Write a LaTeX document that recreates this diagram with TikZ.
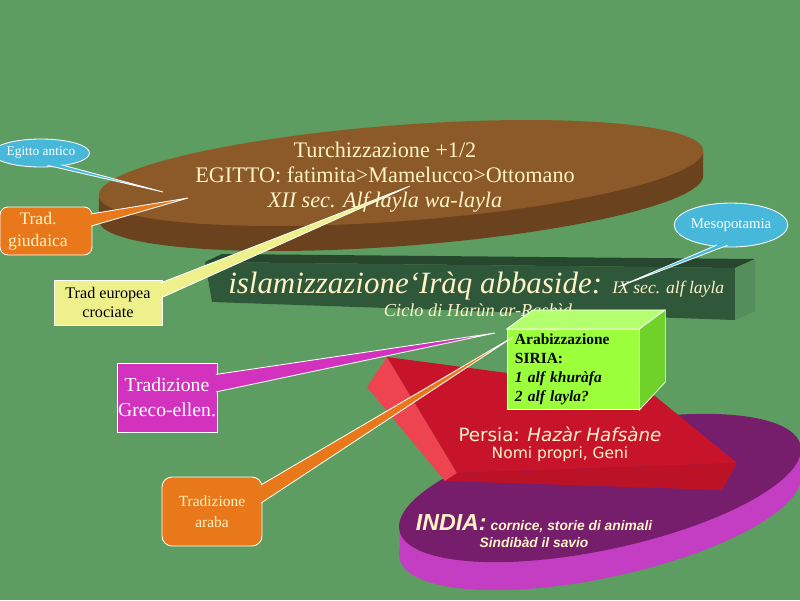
\documentclass[tikz,border=0pt]{standalone}
\usepackage{fontspec}
\setmainfont{Liberation Serif}
\newfontfamily\persiafont{DejaVu Sans}
\newfontfamily\indiafont{Liberation Sans}
\usepackage{tikz}
\usetikzlibrary{
    shapes,
    calc,
    positioning
}
\definecolor{bggreen}{HTML}{5D9D61}
\definecolor{creamtext}{HTML}{FFF3C6}
\definecolor{browntop}{HTML}{8C5A28}
\definecolor{brownside}{HTML}{6A431E}
\definecolor{slabtop}{HTML}{26462D}
\definecolor{slabfront}{HTML}{2F583A}
\definecolor{slabside}{HTML}{548E5C}
\definecolor{indiatop}{HTML}{761E6C}
\definecolor{indiaside}{HTML}{C43EC4}
\definecolor{persiatop}{HTML}{C8142A}
\definecolor{persialeft}{HTML}{EE4452}
\definecolor{persiafront}{HTML}{BC1228}
\definecolor{cubefront}{HTML}{9BFF3C}
\definecolor{cubetop}{HTML}{B4FF6E}
\definecolor{cubeside}{HTML}{6ED22A}
\definecolor{skyblue}{HTML}{48B8DA}
\definecolor{tradorange}{HTML}{E8781A}
\definecolor{paleyellow}{HTML}{EEF08C}
\definecolor{grecomagenta}{HTML}{D232BE}

\begin{document}
\begin{tikzpicture}[x=0.025cm, y=-0.025cm,
        txt/.style={text=creamtext, align=center, inner sep=0pt},
        callout/.style={draw=white, line width=0.6pt, align=center, inner sep=0pt},
        wedge/.style={white, line width=0.6pt}]
                                \useasboundingbox (0,0) rectangle (800,600);
                                \clip (0,0) rectangle (800,600);
                                \fill[bggreen] (0,0) rectangle (800,600);

                                % Egitto disc
                                \fill[brownside, rotate around={4.3:(401,198)}] (401,198) ellipse [x radius=303, y radius=48];
                                \fill[brownside] (98.9,195.7) -- (703.1,150.3) -- (703.1,175.3) -- (98.9,220.7) -- cycle;
                                \fill[browntop, rotate around={4.3:(401,173)}] (401,173) ellipse [x radius=303, y radius=48];
                                \node[txt, font=\fontsize{15.8}{17.8}\selectfont] (turk) at (385,177)
                                    {Turchizzazione +1/2\\EGITTO: fatimita>Mamelucco>Ottomano\\\textit{XII sec. Alf layla wa-layla}};

                                % Iraq slab
                                \fill[slabtop] (205,262) -- (222,254) -- (755,259) -- (735,268) -- cycle;
                                \fill[slabfront] (205,262) -- (735,268) -- (735,320) -- (212,302) -- cycle;
                                \fill[slabside] (735,268) -- (755,259) -- (755,311) -- (735,320) -- cycle;
                                \node[txt, anchor=base west] (islam) at (228,293)
                                    {\itshape\fontsize{22}{24}\selectfont islamizzazione‘Iràq abbaside: \fontsize{12.5}{14}\selectfont IX sec. alf layla};
                                \node[txt, font=\itshape\fontsize{13}{15}\selectfont] (ciclo) at (478,310) {Ciclo di Harùn ar-Rashìd};

                                % India disc
                                \fill[indiaside, rotate around={12:(600,516)}] (600,516) ellipse [x radius=205, y radius=62];
                                \fill[indiaside] (399.5,530.6) -- (800.5,445.4) -- (800.5,473.4) -- (399.5,558.6) -- cycle;
                                \fill[indiatop, rotate around={12:(600,488)}] (600,488) ellipse [x radius=205, y radius=62];
                                \node[txt, font=\indiafont\bfseries\itshape] (india) at (534,531)
                                    {{\fontsize{16.5}{18}\selectfont INDIA:} {\fontsize{9.8}{12}\selectfont cornice, storie di animali}\\
                                     {\fontsize{9.8}{14}\selectfont Sindibàd il savio}};

                                % Persia slab
                                \fill[persialeft] (367,387) -- (387,357) -- (457,473) -- (445,481) -- cycle;
                                \fill[persiatop] (387,357) -- (650,392) -- (737,463) -- (457,473) -- cycle;
                                \fill[persiafront] (457,473) -- (737,463) -- (722,490) -- (445,481) -- cycle;
                                \node[txt, font=\persiafont] (persia) at (560,444)
                                    {{\fontsize{13}{15}\selectfont Persia: \textit{Hazàr Hafsàne}}\\
                                     {\fontsize{11}{14}\selectfont Nomi propri, Geni}};

                                % Siria cube
                                \node[draw=white, line width=0.5pt, fill=cubefront, minimum width=3.3cm, minimum height=1.875cm,
                                      text width=2.9cm, inner xsep=0.2cm, align=left,
                                      font=\bfseries\fontsize{11}{13.5}\selectfont] (siria) at (573,369.5)
                                    {Arabizzazione\\SIRIA:\\\textit{1 alf khuràfa}\\\textit{2 alf layla?}};
                                \draw[white, line width=0.5pt, fill=cubetop] (siria.north west) -- ++(26,-19) -- ++(132,0) -- (siria.north east) -- cycle;
                                \draw[white, line width=0.5pt, fill=cubeside] (siria.north east) -- ++(26,-19) -- ++(0,72) -- (siria.south east) -- cycle;

                                % callouts
                                \node[callout, ellipse, fill=skyblue, minimum width=2cm, minimum height=0.7cm, text=white,
                                      font=\fontsize{9.5}{10}\selectfont] (egitto) at (41,153) {Egitto antico};
                                \node[callout, fill=tradorange, rounded corners=0.2cm, minimum width=2.3cm, minimum height=1.2cm,
                                      text=creamtext, font=\fontsize{12.5}{15.6}\selectfont] (giud) at (46,231)
                                    {Trad.\hspace*{0.4cm}\\giudaica\hspace*{0.4cm}};
                                \node[callout, fill=paleyellow, minimum width=2.7cm, minimum height=1.125cm,
                                      font=\fontsize{11.5}{13.5}\selectfont] (europa) at (108,302.5) {Trad europea\\crociate};
                                \node[callout, ellipse, fill=skyblue, minimum width=2.75cm, minimum height=1.1cm, text=white,
                                      font=\fontsize{10.5}{12}\selectfont] (meso) at (731,225) {Mesopotamia};
                                \node[callout, fill=grecomagenta, minimum width=2.5cm, minimum height=1.725cm, text=white,
                                      font=\fontsize{14}{17.8}\selectfont] (greco) at (167,397.5) {Tradizione\\Greco-ellen.};
                                \node[callout, fill=tradorange, rounded corners=0.25cm, minimum width=2.5cm, minimum height=1.725cm,
                                      text=creamtext, font=\fontsize{11}{15}\selectfont] (araba) at (212,511.5) {Tradizione\\araba};

                                \coordinate (egitto tip) at (163,192);
                                \coordinate (giud tip) at (188,198);
                                \coordinate (europa tip) at (410,186);
                                \coordinate (meso tip) at (618,287);
                                \coordinate (greco tip) at (495,333);
                                \coordinate (araba tip) at (513,337);

                                \coordinate (egitto a) at ($(egitto.-62)!1.5pt!(egitto.center)$);
                                \coordinate (egitto b) at ($(egitto.-30)!1.5pt!(egitto.center)$);
                                \coordinate (giud a) at ($(giud.north east)!0.15!(giud.south east)+(-1.5,0)$);
                                \coordinate (giud b) at ($(giud.north east)!0.4!(giud.south east)+(-1.5,0)$);
                                \coordinate (europa a) at ($(europa.north east)!0.07!(europa.south east)+(-1.5,0)$);
                                \coordinate (europa b) at ($(europa.north east)!0.4!(europa.south east)+(-1.5,0)$);
                                \coordinate (meso a) at ($(meso.-125)!1.5pt!(meso.center)$);
                                \coordinate (meso b) at ($(meso.-100)!1.5pt!(meso.center)$);
                                \coordinate (greco a) at ($(greco.north east)!0.17!(greco.south east)+(-1.5,0)$);
                                \coordinate (greco b) at ($(greco.north east)!0.42!(greco.south east)+(-1.5,0)$);
                                \coordinate (araba a) at ($(araba.north east)!0.12!(araba.south east)+(-1.5,0)$);
                                \coordinate (araba b) at ($(araba.north east)!0.38!(araba.south east)+(-1.5,0)$);

                                \fill[skyblue] (egitto a) -- (egitto tip) -- (egitto b) -- cycle;
                                \fill[tradorange] (giud a) -- (giud tip) -- (giud b) -- cycle;
                                \fill[paleyellow] (europa a) -- (europa tip) -- (europa b) -- cycle;
                                \fill[skyblue] (meso a) -- (meso tip) -- (meso b) -- cycle;
                                \fill[grecomagenta] (greco a) -- (greco tip) -- (greco b) -- cycle;
                                \fill[tradorange] (araba a) -- (araba tip) -- (araba b) -- cycle;

                                \draw[wedge]
                                (egitto a) -- (egitto tip) -- (egitto b)
                                (giud a) -- (giud tip) -- (giud b)
                                (europa a) -- (europa tip) -- (europa b)
                                (meso a) -- (meso tip) -- (meso b)
                                (greco a) -- (greco tip) -- (greco b)
                                (araba a) -- (araba tip) -- (araba b);
                            \end{tikzpicture}
\end{document}
